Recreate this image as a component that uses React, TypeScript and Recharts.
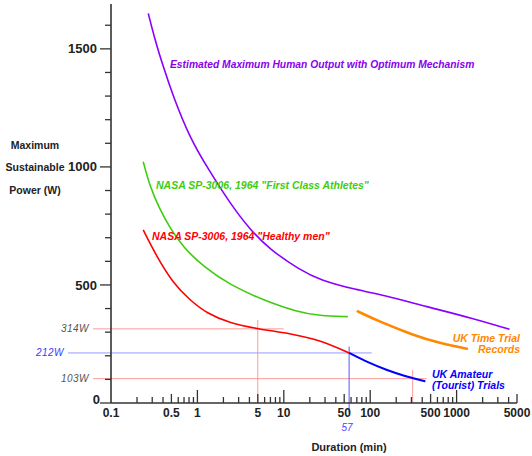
import React from "react";
import { LineChart, Line, XAxis, YAxis, ReferenceLine } from "recharts";

// power (W) vs duration (min)
const optimumMechanism = [
  { x: 0.27, y: 1650 },
  { x: 0.323, y: 1538 },
  { x: 0.402, y: 1425 },
  { x: 0.525, y: 1298 },
  { x: 0.82, y: 1122 },
  { x: 1.33, y: 992 },
  { x: 2.38, y: 846 },
  { x: 4.05, y: 735 },
  { x: 6.9, y: 650 },
  { x: 15.3, y: 564 },
  { x: 26, y: 521 },
  { x: 69, y: 479 },
  { x: 141, y: 458 },
  { x: 447, y: 408 },
  { x: 1540, y: 359 },
  { x: 4100, y: 312 },
];

const firstClassAthletes = [
  { x: 0.236, y: 1022 },
  { x: 0.282, y: 917 },
  { x: 0.369, y: 818 },
  { x: 0.481, y: 742 },
  { x: 0.685, y: 660 },
  { x: 1.17, y: 578 },
  { x: 2.38, y: 500 },
  { x: 5.77, y: 436 },
  { x: 14, y: 387 },
  { x: 26, y: 369 },
  { x: 55, y: 366 },
];

const healthyMen = [
  { x: 0.236, y: 733 },
  { x: 0.338, y: 620 },
  { x: 0.525, y: 507 },
  { x: 0.82, y: 436 },
  { x: 1.28, y: 380 },
  { x: 2.38, y: 338 },
  { x: 5, y: 314 },
  { x: 11.7, y: 295 },
  { x: 26, y: 267 },
  { x: 57, y: 212 },
];

const ukTimeTrial = [
  { x: 70, y: 390 },
  { x: 129, y: 344 },
  { x: 313, y: 288 },
  { x: 636, y: 253 },
  { x: 1350, y: 229 },
];

const ukAmateur = [
  { x: 57, y: 212 },
  { x: 99, y: 168 },
  { x: 154, y: 140 },
  { x: 239, y: 116 },
  { x: 408, y: 94.5 },
  { x: 435, y: 92 },
];

const xTicks = [
  0.1, 0.2, 0.3, 0.4, 0.5, 0.6, 0.7, 0.8, 0.9,
  1, 2, 3, 4, 5, 6, 7, 8, 9,
  10, 20, 30, 40, 50, 60, 70, 80, 90,
  100, 200, 300, 400, 500, 600, 700, 800, 900,
  1000, 2000, 3000, 4000, 5000,
];
const xLabelled = [0.1, 0.5, 1, 5, 10, 50, 100, 500, 1000, 5000];
const xDecades = [1, 10, 100, 1000];

const yTicks = [0, 100, 200, 300, 400, 500, 600, 700, 800, 900, 1000, 1100, 1200, 1300, 1400, 1500, 1600];
const yLabelled = [0, 500, 1000, 1500];

const FONT = "'Liberation Sans', Arial, sans-serif";
const AXIS = "#333";

const XTick = (props: any) => {
  const { x, y, payload } = props;
  const v = payload.value;
  const len = xDecades.includes(v) ? 13 : xLabelled.includes(v) ? 9 : 6;
  return (
    <g>
      {v !== 0.1 && <line x1={x} y1={y} x2={x} y2={y - len} stroke={AXIS} strokeWidth={1.3} />}
      {xLabelled.includes(v) && (
        <text x={x} y={y + 14} textAnchor="middle" fontFamily={FONT} fontWeight="bold" fontSize={12} fill="#222">
          {String(v)}
        </text>
      )}
    </g>
  );
};

const YTick = (props: any) => {
  const { x, y, payload } = props;
  const v = payload.value;
  const len = v % 500 === 0 ? 11 : 6;
  return (
    <g>
      <line x1={x - len} y1={y} x2={x} y2={y} stroke={AXIS} strokeWidth={1.3} />
      {yLabelled.includes(v) && (
        <text
          x={v === 0 ? x - 11 : x - 14}
          y={v === 0 ? y - 4 : y}
          dy="0.35em"
          textAnchor="end"
          fontFamily={FONT}
          fontWeight="bold"
          fontSize={13}
          fill="#222"
        >
          {v}
        </text>
      )}
    </g>
  );
};

const wattLabel = (text: string, color: string, dx: number) => (props: any) => {
  const { viewBox } = props;
  return (
    <text
      x={viewBox.x - dx}
      y={viewBox.y}
      dy="0.35em"
      textAnchor="end"
      fontFamily={FONT}
      fontStyle="italic"
      fontSize={10}
      letterSpacing={0.5}
      fill={color}
    >
      {text}
    </text>
  );
};

const label = {
  fontFamily: FONT,
  fontWeight: "bold" as const,
  fontStyle: "italic" as const,
  fontSize: 10.5,
};

export default function App() {
  return (
    <div style={{ position: "absolute", left: 0, top: 0, width: 532, height: 456, background: "#fff" }}>
      <LineChart width={532} height={456} margin={{ top: 4, right: 15, bottom: 0, left: 0 }}>
        <XAxis
          type="number"
          dataKey="x"
          scale="log"
          domain={[0.1, 5000]}
          ticks={xTicks}
          interval={0}
          allowDataOverflow
          height={53}
          tickSize={0}
          tickMargin={0}
          tickLine={false}
          axisLine={{ stroke: AXIS, strokeWidth: 1.6 }}
          tick={<XTick />}
        />
        <YAxis
          type="number"
          dataKey="y"
          domain={[0, 1690]}
          ticks={yTicks}
          interval={0}
          allowDataOverflow
          width={111}
          tickSize={0}
          tickMargin={0}
          tickLine={false}
          axisLine={{ stroke: AXIS, strokeWidth: 1.6 }}
          tick={<YTick />}
        />

        <ReferenceLine
          segment={[{ x: 0.062, y: 314 }, { x: 10, y: 314 }]}
          stroke="#ff8080"
          strokeOpacity={0.8}
          ifOverflow="visible"
          label={wattLabel("314W", "#555", 4)}
        />
        <ReferenceLine
          segment={[{ x: 0.0318, y: 212 }, { x: 104, y: 212 }]}
          stroke="#7f7fff"
          strokeOpacity={0.8}
          ifOverflow="visible"
          label={wattLabel("212W", "#3b3bff", 4)}
        />
        <ReferenceLine
          segment={[{ x: 0.062, y: 103 }, { x: 450, y: 103 }]}
          stroke="#ff8080"
          strokeOpacity={0.8}
          ifOverflow="visible"
          label={wattLabel("103W", "#555", 4)}
        />
        <ReferenceLine segment={[{ x: 5, y: 352 }, { x: 5, y: 0 }]} stroke="#ff8080" strokeOpacity={0.8} ifOverflow="visible" />
        <ReferenceLine segment={[{ x: 57, y: 239 }, { x: 57, y: -42 }]} stroke="#5555ff" ifOverflow="visible" />
        <ReferenceLine segment={[{ x: 310, y: 140 }, { x: 310, y: 0 }]} stroke="#ff8080" strokeOpacity={0.8} ifOverflow="visible" />

        <Line data={optimumMechanism} dataKey="y" type="basis" stroke="#8a00ff" strokeWidth={1.6} dot={false} isAnimationActive={false} />
        <Line data={firstClassAthletes} dataKey="y" type="basis" stroke="#3fcc0c" strokeWidth={1.6} dot={false} isAnimationActive={false} />
        <Line data={healthyMen} dataKey="y" type="basis" stroke="#ff0000" strokeWidth={1.6} dot={false} isAnimationActive={false} />
        <Line data={ukTimeTrial} dataKey="y" type="basis" stroke="#ff8800" strokeWidth={2.6} dot={false} isAnimationActive={false} />
        <Line data={ukAmateur} dataKey="y" type="basis" stroke="#0000ff" strokeWidth={2} dot={false} isAnimationActive={false} />
      </LineChart>

      <svg width={532} height={456} style={{ position: "absolute", left: 0, top: 0, pointerEvents: "none" }}>
        <g fontFamily={FONT} fontWeight="bold" fontSize={10.5} fill="#222" textAnchor="middle">
          <text x={35} y={149}>Maximum</text>
          <text x={35} y={171}>Sustainable</text>
          <text x={35} y={194}>Power (W)</text>
          <text x={349} y={451} fontSize={11}>Duration (min)</text>
        </g>
        <text x={347} y={431} textAnchor="middle" fontFamily={FONT} fontStyle="italic" fontSize={10} fill="#4444ff">57</text>

        <text x={170} y={68} {...label} fontSize={10.3} fill="#8a00ee">Estimated Maximum Human Output with Optimum Mechanism</text>
        <text x={156} y={189} {...label} fill="#3fcc0c">NASA SP-3006, 1964 "First Class Athletes"</text>
        <text x={152} y={240} {...label} fill="#ff0000">NASA SP-3006, 1964 "Healthy men"</text>
        <text x={520} y={342} {...label} fill="#ff8800" textAnchor="end">UK Time Trial</text>
        <text x={520} y={353} {...label} fill="#ff8800" textAnchor="end">Records</text>
        <text x={432} y={378} {...label} fill="#0000ff">UK Amateur</text>
        <text x={432} y={389} {...label} fill="#0000ff">(Tourist) Trials</text>
      </svg>
    </div>
  );
}
